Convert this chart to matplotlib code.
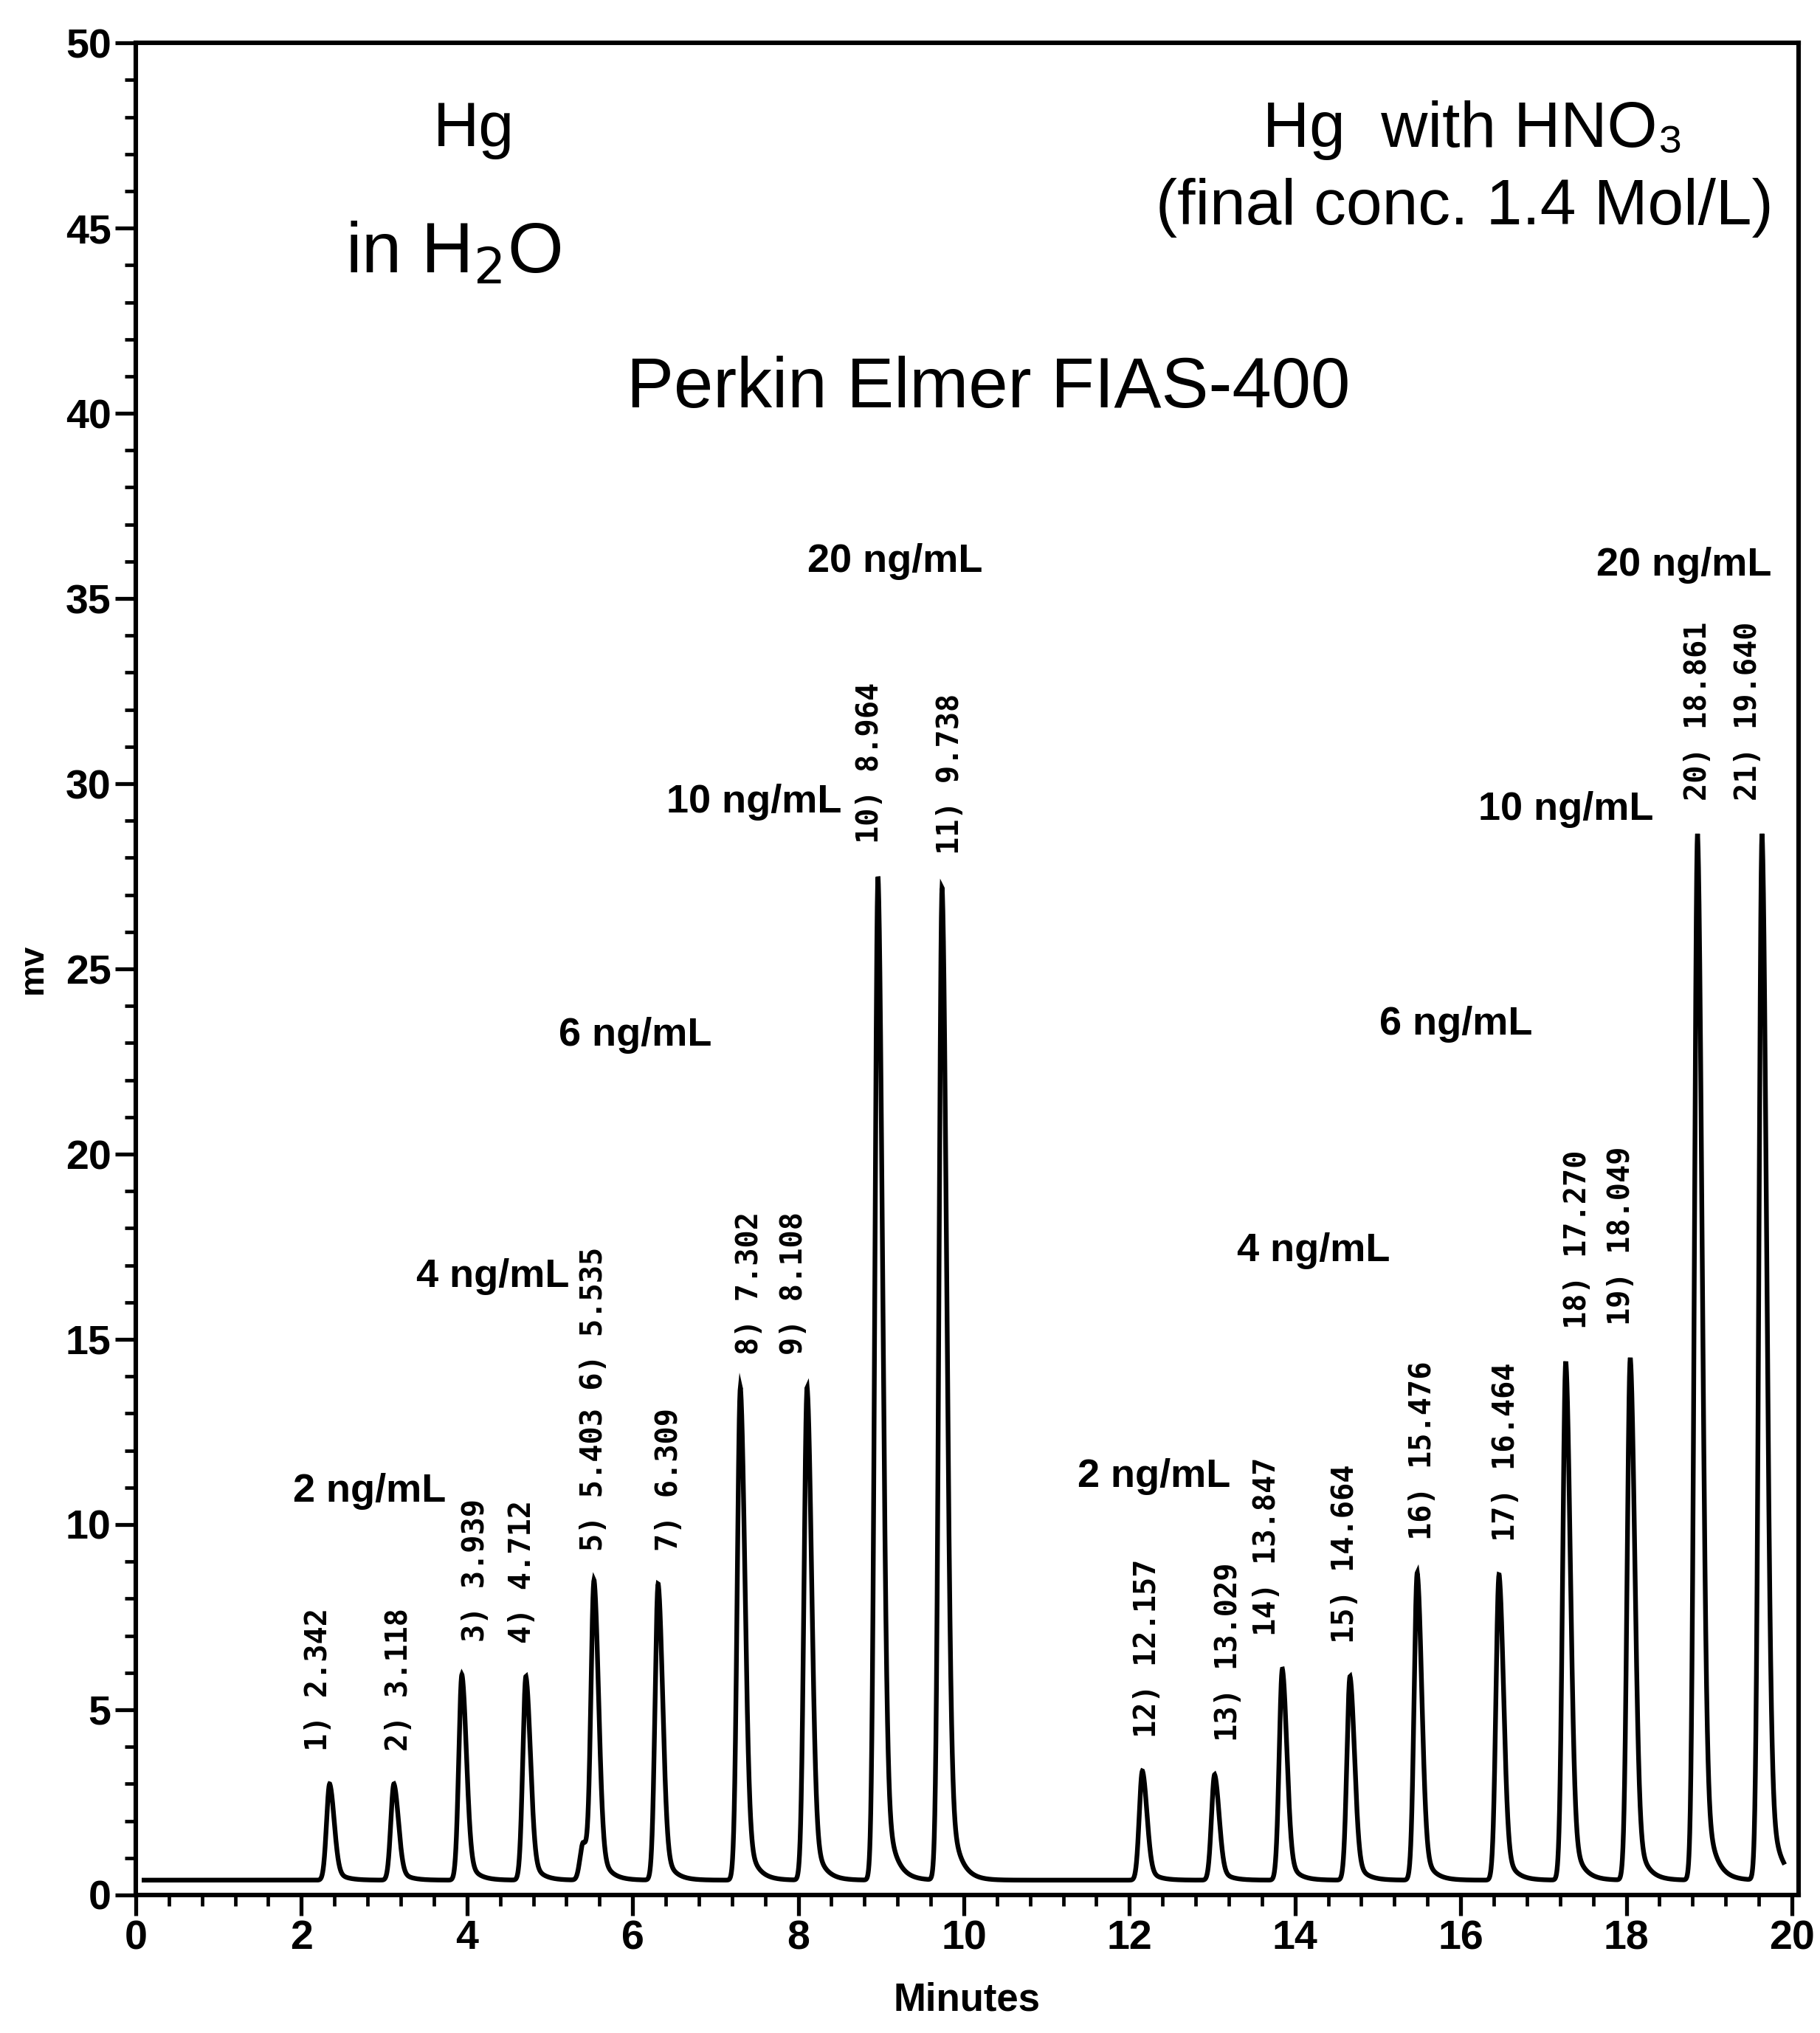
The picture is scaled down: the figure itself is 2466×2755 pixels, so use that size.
import numpy as np
import matplotlib
matplotlib.use('Agg')
import matplotlib.pyplot as plt
from matplotlib.ticker import MultipleLocator

# ============ DATA ============
peak_no = list(range(1, 22))
ret_times = [2.342, 3.118, 3.939, 4.712, 5.403, 5.535, 6.309, 7.302, 8.108, 8.964, 9.738,
             12.157, 13.029, 13.847, 14.664, 15.476, 16.464, 17.270, 18.049, 18.861, 19.640]
# apex heights in mV (measured from the axis, baseline included)
heights = [3.0, 3.0, 5.95, 5.9, 1.4, 8.4, 8.4, 13.7, 13.7, 27.5, 27.2,
           3.35, 3.25, 6.1, 5.9, 8.7, 8.65, 14.4, 14.5, 28.65, 28.65]
baseline_mv = 0.4

conc_labels = ['2 ng/mL', '4 ng/mL', '6 ng/mL', '10 ng/mL', '20 ng/mL']
conc_left_xy = [(2.82, 10.9), (4.31, 16.7), (6.03, 23.2), (7.47, 29.5), (9.17, 36.0)]
conc_right_xy = [(12.3, 11.3), (14.22, 17.4), (15.94, 23.5), (17.27, 29.3), (18.7, 35.9)]

# horizontal nudges of the peak labels (minutes), as the integrator placed them
label_dx = [-0.14, 0.06, 0.17, -0.05, 0, 0, 0.13, 0.11, -0.16, -0.1, 0.1,
            0.06, 0.17, -0.19, -0.06, 0.06, 0.08, 0.14, -0.11, 0, -0.17]


def peak_shape(t, rt, h):
    d = t - rt
    left = np.exp(-0.5 * (d / 0.038) ** 2)
    right = 0.82 * np.exp(-0.5 * (d / 0.055) ** 2) + 0.18 * np.exp(-np.clip(d, 0, None) / 0.11)
    return h * np.where(d < 0, left, right)


t = np.linspace(0.1, 19.9, 12000)
signal = np.full_like(t, baseline_mv)
for rt, h in zip(ret_times, heights):
    signal += peak_shape(t, rt, h - baseline_mv)

# ================= PLOT ===================
plt.rcParams['font.family'] = ['Liberation Sans', 'DejaVu Sans']
fig = plt.figure(figsize=(24.66, 27.55), dpi=100)
ax = fig.add_axes([0.0746, 0.0679, 0.9136, 0.911])

ax.plot(t, signal, color='black', lw=4.6, solid_joinstyle='miter')

ax.set_xlim(0, 20.08)
ax.set_ylim(0, 50)

ax.xaxis.set_major_locator(MultipleLocator(2))
ax.xaxis.set_minor_locator(MultipleLocator(0.4))
ax.yaxis.set_major_locator(MultipleLocator(5))
ax.yaxis.set_minor_locator(MultipleLocator(1))
ax.tick_params(which='major', direction='out', length=20, width=3.8, pad=4, labelsize=40)
ax.tick_params(which='minor', direction='out', length=11, width=3.4)
for lab in ax.get_xticklabels() + ax.get_yticklabels():
    lab.set_fontweight('bold')
for sp in ax.spines.values():
    sp.set_linewidth(4.4)

ax.set_xlabel('Minutes', fontsize=38, fontweight='bold')
ax.xaxis.set_label_coords(0.5, -0.047)
ax.set_ylabel('mv', fontsize=34, fontweight='bold')
ax.yaxis.set_label_coords(-0.052, 0.5)

# peak labels, printed by the integrator above each peak
i = 0
while i < len(ret_times):
    text = f'{peak_no[i]}) {ret_times[i]:.3f}'
    j = i
    # a shoulder right next to a peak shares one label
    if i + 1 < len(ret_times) and ret_times[i + 1] - ret_times[i] < 0.2:
        j = i + 1
        text += f' {peak_no[j]}) {ret_times[j]:.3f}'
    ax.annotate(text, xy=(ret_times[j] + label_dx[j], max(heights[i:j + 1])),
                xytext=(0, 32), textcoords='offset points', rotation=90,
                ha='center', va='bottom', fontsize=29, fontweight='bold',
                family='DejaVu Sans Mono')
    i = j + 1

for lab, (x, y) in zip(conc_labels, conc_left_xy):
    ax.text(x, y, lab, fontsize=39, fontweight='bold', ha='center', va='center')
for lab, (x, y) in zip(conc_labels, conc_right_xy):
    ax.text(x, y, lab, fontsize=39, fontweight='bold', ha='center', va='center')

ax.text(4.08, 47.65, 'Hg', fontsize=62, ha='center', va='center')
ax.text(3.84, 44.3, 'in H$_2$O', fontsize=70, ha='center', va='center')
ax.text(16.15, 47.65, 'Hg  with HNO\u2083', fontsize=63, ha='center', va='center')
ax.text(16.05, 45.55, '(final conc. 1.4 Mol/L)', fontsize=63, ha='center', va='center')
ax.text(10.3, 40.65, 'Perkin Elmer FIAS-400', fontsize=69, ha='center', va='center')

fig.savefig('out.png', dpi=100)
plt.close(fig)
